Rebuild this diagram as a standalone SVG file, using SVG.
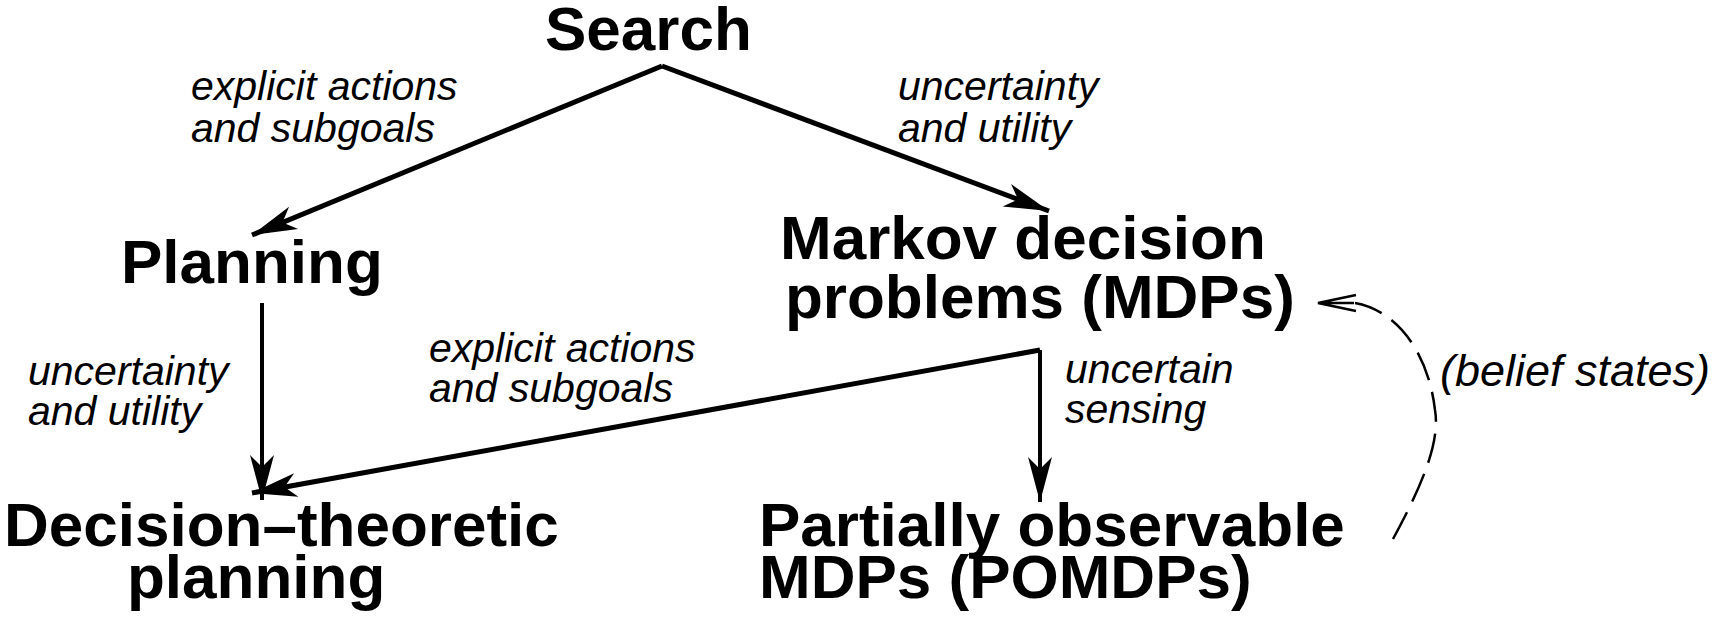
<svg xmlns="http://www.w3.org/2000/svg" width="1713" height="617" viewBox="0 0 1713 617">
<style>
.node{font-family:"Liberation Sans",Arial,Helvetica,sans-serif;font-weight:bold;font-size:62px;fill:#000}
.lbl{font-family:"Liberation Sans",Arial,Helvetica,sans-serif;font-style:italic;font-size:41px;fill:#000}
.edge{fill:none;stroke:#000;stroke-width:5}
.vedge{fill:none;stroke:#000;stroke-width:4}
.dash{fill:none;stroke:#000;stroke-width:2.5;stroke-dasharray:30 12}
</style>
<defs>
<marker id="ah" markerUnits="userSpaceOnUse" viewBox="-50 -14 52 28" refX="0" refY="0" markerWidth="52" markerHeight="28" orient="auto">
<path d="M0,0 L-45,-12 L-33,0 L-45,12 Z" fill="#000"/>
</marker>
<marker id="oh" markerUnits="userSpaceOnUse" viewBox="-42 -12 44 24" refX="0" refY="0" markerWidth="44" markerHeight="24" orient="auto">
<path d="M-38,-8 L0,0 L-38,8 M-3,0 L-36,0" fill="none" stroke="#000" stroke-width="2.5"/>
</marker>
</defs>
<g id="connectors">
<path class="edge" d="M662,66 L252,235" marker-end="url(#ah)"/>
<path class="edge" d="M662,66 L1049,211" marker-end="url(#ah)"/>
<path class="vedge" d="M262,303 L262,500" marker-end="url(#ah)"/>
<path class="edge" d="M1040,350 L252,493" marker-end="url(#ah)"/>
<path class="vedge" d="M1040,350 L1040,502" marker-end="url(#ah)"/>
<path class="dash" d="M1393,539 C1425,480 1440,440 1435,410 C1428,350 1395,310 1355,303"/>
<path d="M1356,303 L1318,303" fill="none" stroke="none" marker-end="url(#oh)"/>
</g>
<g id="labels">
<text class="lbl" x="191" y="100">explicit actions</text>
<text class="lbl" x="191" y="142">and subgoals</text>
<text class="lbl" x="898" y="100">uncertainty</text>
<text class="lbl" x="898" y="142">and utility</text>
<text class="lbl" x="28" y="385">uncertainty</text>
<text class="lbl" x="28" y="425">and utility</text>
<text class="lbl" x="429" y="362">explicit actions</text>
<text class="lbl" x="429" y="402">and subgoals</text>
<text class="lbl" x="1065" y="383">uncertain</text>
<text class="lbl" x="1065" y="423">sensing</text>
<text class="lbl" x="1440" y="386" style="font-size:45px">(belief states)</text>
</g>
<g id="search"><text class="node" x="545" y="50">Search</text></g>
<g id="planning"><text class="node" x="121" y="283">Planning</text></g>
<g id="mdp"><text class="node"><tspan x="780" y="259">Markov decision</tspan><tspan x="785" y="318">problems (MDPs)</tspan></text></g>
<g id="dtp"><text class="node"><tspan x="4" y="546">Decision–theoretic</tspan><tspan x="127" y="598">planning</tspan></text></g>
<g id="pomdp"><text class="node"><tspan x="759" y="546">Partially observable</tspan><tspan x="759" y="598">MDPs (POMDPs)</tspan></text></g>
</svg>
